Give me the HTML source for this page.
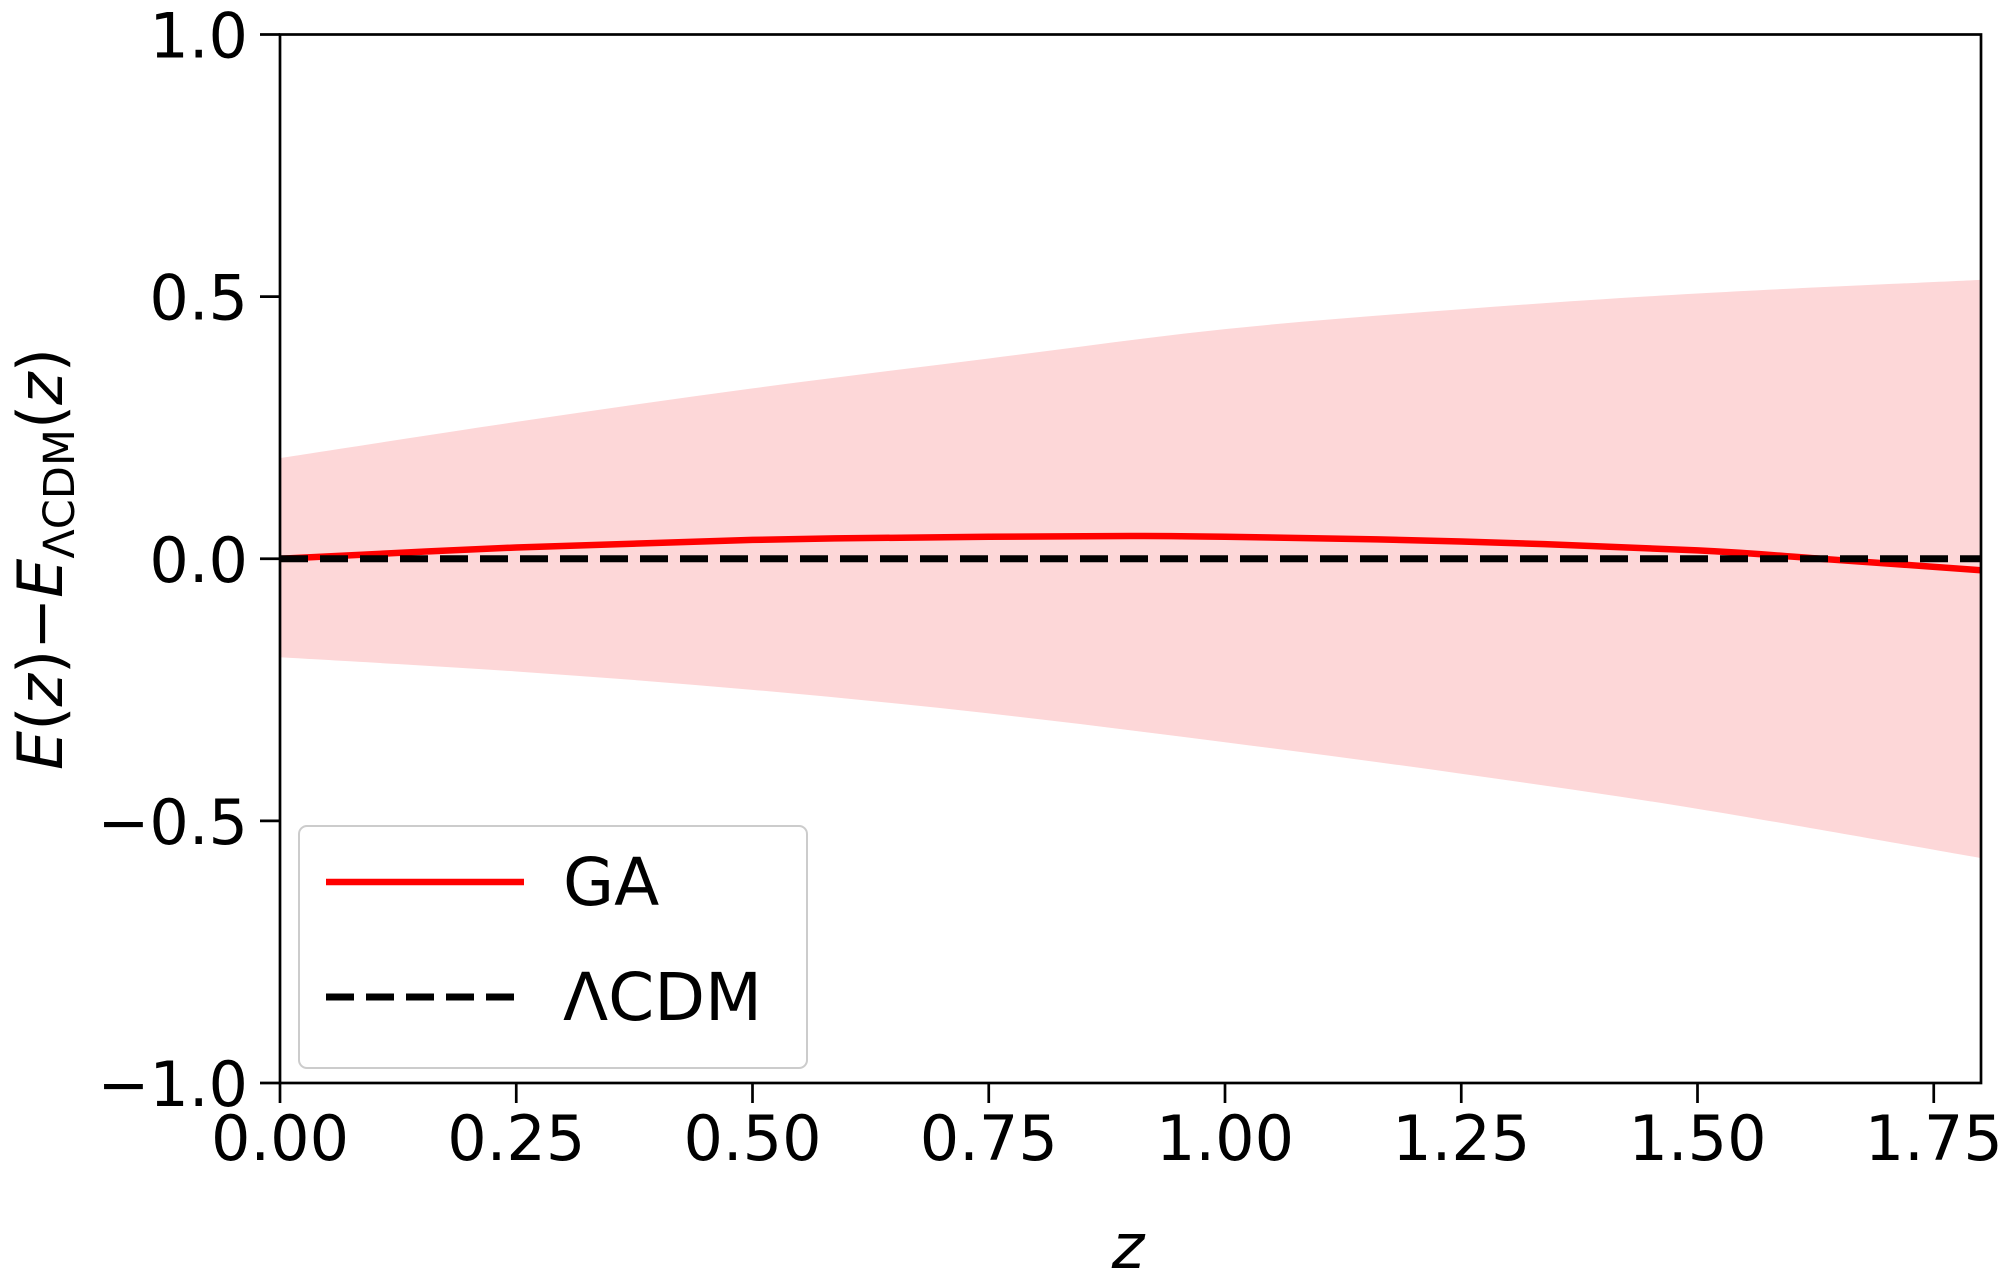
<!DOCTYPE html>
<html><head><meta charset="utf-8"><style>
html,body{margin:0;padding:0;background:#fff;}
svg{display:block;font-family:"DejaVu Sans","Liberation Sans",sans-serif;}
</style></head><body>
<svg id="chart" width="2000" height="1285" viewBox="0 0 2000 1285">
<g id="plot"></g>
</svg>
<script>
const zVals=[0,0.25,0.5,0.75,0.9,1.0,1.25,1.5,1.63,1.8];
const gaVals=[0,0.0215,0.036,0.042,0.0435,0.042,0.033,0.016,0,-0.022];
const bandZ=[0,0.25,0.5,0.75,1.0,1.25,1.5,1.8];
const bandUpper=[0.192,0.261,0.325,0.382,0.438,0.476,0.506,0.532];
const bandLower=[-0.188,-0.215,-0.25,-0.295,-0.35,-0.41,-0.477,-0.571];
const lcdmZ=[0,1.8];
const lcdmVals=[0,0];
const xTicks=[0,0.25,0.5,0.75,1.0,1.25,1.5,1.75];
const xTickLabels=["0.00","0.25","0.50","0.75","1.00","1.25","1.50","1.75"];
const yTicks=[1.0,0.5,0.0,-0.5,-1.0];
const yTickLabels=["1.0","0.5","0.0","\u22120.5","\u22121.0"];

const L=280,R=1981,T=34.5,B=1083;
const xMin=0,xMax=1.8,yMin=-1,yMax=1;
const X=v=>L+(v-xMin)/(xMax-xMin)*(R-L);
const Y=v=>B-(v-yMin)/(yMax-yMin)*(B-T);
const NS="http://www.w3.org/2000/svg";
const g=document.getElementById('plot');
function mk(t,a,p){const e=document.createElementNS(NS,t);for(const k in a)e.setAttribute(k,a[k]);(p||g).appendChild(e);return e;}
function smooth(pts,move){
  let d=(move?'M':'L')+pts[0][0]+','+pts[0][1];
  for(let i=0;i<pts.length-1;i++){
    const p0=pts[Math.max(i-1,0)],p1=pts[i],p2=pts[i+1],p3=pts[Math.min(i+2,pts.length-1)];
    const c1=[p1[0]+(p2[0]-p0[0])/6,p1[1]+(p2[1]-p0[1])/6];
    const c2=[p2[0]-(p3[0]-p1[0])/6,p2[1]-(p3[1]-p1[1])/6];
    d+=' C'+c1[0]+','+c1[1]+' '+c2[0]+','+c2[1]+' '+p2[0]+','+p2[1];
  }
  return d;
}

const defs=mk('defs',{});
const cp=mk('clipPath',{id:'clip'},defs);
mk('rect',{x:L,y:T,width:R-L,height:B-T},cp);

const up=bandZ.map((z,i)=>[X(z),Y(bandUpper[i])]);
const lo=bandZ.map((z,i)=>[X(z),Y(bandLower[i])]).reverse();
const band=mk('path',{d:smooth(up,true)+' '+smooth(lo,false)+' Z',fill:'#fdd7d8','clip-path':'url(#clip)'});



const ga=mk('path',{d:smooth(zVals.map((z,i)=>[X(z),Y(gaVals[i])]),true),fill:'none',stroke:'#ff0000','stroke-width':6.5,'clip-path':'url(#clip)'});



const lc=mk('path',{d:lcdmZ.map((z,i)=>(i?'L':'M')+X(z)+','+Y(lcdmVals[i])).join(' '),fill:'none',stroke:'#000','stroke-width':7,'stroke-dasharray':'28 12'});



const fr=mk('rect',{x:L,y:T,width:R-L,height:B-T,fill:'none',stroke:'#000','stroke-width':2.7});



xTicks.forEach((v,i)=>{
  const t=mk('line',{x1:X(v),x2:X(v),y1:B,y2:B+20,stroke:'#000','stroke-width':2.7});
  
  
  const tx=mk('text',{x:X(v),y:B+77,'font-size':62,'text-anchor':'middle',fill:'#000'});
  tx.textContent=xTickLabels[i];
  
  
});
yTicks.forEach((v,i)=>{
  const t=mk('line',{x1:L-20,x2:L,y1:Y(v),y2:Y(v),stroke:'#000','stroke-width':2.7});
  
  
  const tx=mk('text',{x:L-32,y:Y(v)+23,'font-size':62,'text-anchor':'end',fill:'#000'});
  tx.textContent=yTickLabels[i];
  
  
});

const xt=mk('text',{x:1128,y:1268,'font-size':62,'font-style':'italic','text-anchor':'middle'});
xt.textContent='z';


const yt=mk('text',{transform:'translate(62,559) rotate(-90)','font-size':62,'text-anchor':'middle'});
yt.innerHTML='<tspan font-style="italic">E</tspan>(<tspan font-style="italic">z</tspan>)\u2212<tspan font-style="italic">E</tspan><tspan font-size="43" dy="12">\u039bCDM</tspan><tspan dy="-12">(</tspan><tspan font-style="italic">z</tspan>)';



const lg=mk('g',{});


mk('rect',{x:299,y:826,width:508,height:242,rx:8,fill:'#fff','fill-opacity':0.8,stroke:'#ccc','stroke-width':2},lg);
const e1=mk('g',{},lg);


mk('line',{x1:326,x2:524,y1:882,y2:882,stroke:'#ff0000','stroke-width':6.5},e1);
const t1=mk('text',{x:563,y:905,'font-size':66},e1);t1.textContent='GA';
const e2=mk('g',{},lg);


mk('line',{x1:326,x2:524,y1:997,y2:997,stroke:'#000','stroke-width':7,'stroke-dasharray':'28 12'},e2);
const t2=mk('text',{x:563,y:1020,'font-size':66},e2);t2.textContent='\u039bCDM';
</script>
</body></html>
